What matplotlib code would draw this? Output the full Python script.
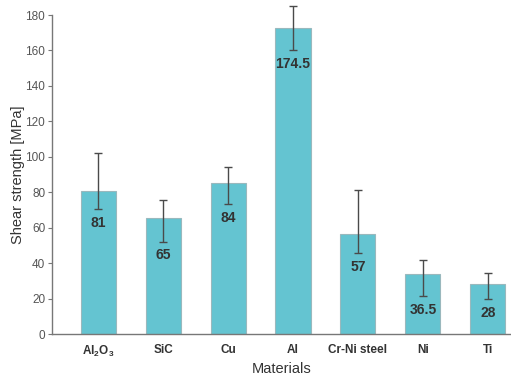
import matplotlib.pyplot as plt
import numpy as np

plt.rcParams['font.family'] = ['Liberation Sans', 'DejaVu Sans']
plt.rcParams['mathtext.fontset'] = 'custom'
plt.rcParams['mathtext.bf'] = 'Liberation Sans:bold'
plt.rcParams['mathtext.rm'] = 'Liberation Sans'

# Data
materials = [r'Al$_\mathbf{2}$O$_\mathbf{3}$', 'SiC', 'Cu', 'Al', 'Cr-Ni steel', 'Ni', 'Ti']
strength = [80.8, 65.5, 85.1, 172.6, 56.5, 34.0, 28.3]
err_low = [10.2, 13.3, 11.7, 12.4, 10.7, 12.5, 8.3]
err_high = [21.5, 10.3, 9.0, 12.3, 24.6, 8.0, 6.4]
value_labels = ['81', '65', '84', '174.5', '57', '36.5', '28']

x = np.arange(len(materials))

fig = plt.figure(figsize=(5.11, 3.75), dpi=100)
ax = fig.add_axes([0.102, 0.109, 0.897, 0.851])

ax.bar(x, strength, width=0.54, color='#64c4d1', edgecolor='#9ab8bd', linewidth=0.8)
eb = ax.errorbar(x, strength, yerr=[err_low, err_high], fmt='none',
                 ecolor='#4a4a4a', elinewidth=1.0, capsize=3, capthick=1.0)
for artist in eb.lines[1] + eb.lines[2]:
    artist.set_clip_on(False)

for xi, s, lo, lab in zip(x, strength, err_low, value_labels):
    ax.annotate(lab, (xi, s - lo), xytext=(0, -10), textcoords='offset points',
                ha='center', va='center', fontsize=10, fontweight='bold', color='#333333')

ax.set_xlim(-0.71, 6.35)
ax.set_ylim(0, 180)
ax.set_yticks(np.arange(0, 181, 20))
ax.set_xticks(x)
ax.set_xticklabels(materials, fontsize=8.5, fontweight='bold', color='#333333')
ax.tick_params(axis='x', length=0, pad=7)
ax.tick_params(axis='y', labelsize=8.5, labelcolor='#555555', color='#777777', length=3, width=0.8, pad=2)

ax.set_ylabel('Shear strength [MPa]', fontsize=10.5, color='#333333', labelpad=0)
ax.set_xlabel('Materials', fontsize=10.5, color='#333333', labelpad=2)

for side in ['top', 'right']:
    ax.spines[side].set_visible(False)
for side in ['left', 'bottom']:
    ax.spines[side].set_color('#777777')
    ax.spines[side].set_linewidth(1.0)

fig.savefig('out.png', dpi=100)
